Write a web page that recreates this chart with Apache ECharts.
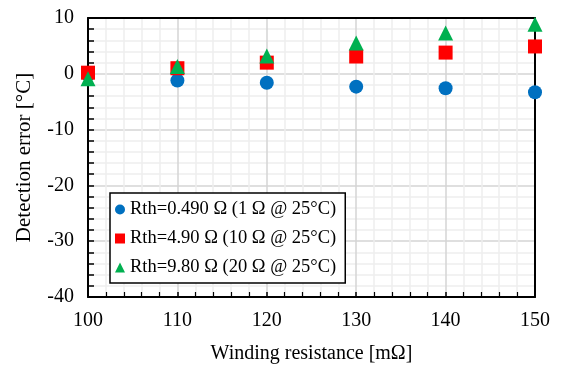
<!DOCTYPE html>
<html>
<head>
<meta charset="utf-8">
<script src="https://cdn.jsdelivr.net/npm/echarts@6/dist/echarts.min.js"></script>
<style>
  html, body { margin: 0; padding: 0; background: #fff; }
  #chart { width: 564px; height: 369px; }
</style>
</head>
<body>
<div id="chart"></div>
<script>
const resistance = [100, 110, 120, 130, 140, 150];
const err049 = [-0.2, -1.2, -1.6, -2.3, -2.6, -3.3];
const err490 = [0.2, 1.0, 2.0, 3.1, 3.8, 4.9];
const err980 = [-0.9, 1.3, 3.2, 5.5, 7.3, 8.9];
const seriesNames = [
  'Rth=0.490 Ω (1 Ω @ 25°C)',
  'Rth=4.90 Ω (10 Ω @ 25°C)',
  'Rth=9.80 Ω (20 Ω @ 25°C)'
];

const font = '"Liberation Serif", "Times New Roman", serif';
const chart = echarts.init(document.getElementById('chart'));

const pairs = vals => resistance.map((x, i) => [x, vals[i]]);

// plain black frame line for the top / right edges
const frame = { show: true, onZero: false, lineStyle: { color: '#000', width: 2 } };

chart.setOption({
  backgroundColor: '#fff',
  animation: false,
  grid: { left: 88, right: 29, top: 18, bottom: 72 },
  legend: {
    orient: 'vertical',
    left: 110, top: 193,
    padding: [7, 9, 6, 5],
    itemGap: 10,
    itemWidth: 10, itemHeight: 10,
    borderColor: '#000', borderWidth: 1.5,
    backgroundColor: '#fff',
    textStyle: { fontFamily: font, fontSize: 18.5, color: '#000' },
    data: seriesNames
  },
  xAxis: [
    {
      type: 'value', min: 100, max: 150, interval: 10,
      name: 'Winding resistance [mΩ]', nameLocation: 'middle', nameGap: 47,
      nameTextStyle: { fontFamily: font, fontSize: 20, color: '#000' },
      axisLine: { onZero: false, lineStyle: { color: '#000', width: 2 } },
      axisTick: { inside: true, length: 5, lineStyle: { color: '#000', width: 1.5 } },
      minorTick: { show: true, splitNumber: 5, length: 5, lineStyle: { color: '#000', width: 1.2 } },
      axisLabel: { fontFamily: font, fontSize: 20, color: '#000', margin: 14 },
      splitLine: { show: true, lineStyle: { color: '#d4d4d4', width: 1.5 } },
      minorSplitLine: { show: true, lineStyle: { color: '#eeeeee', width: 1.5 } }
    },
    {
      type: 'value', position: 'top', min: 100, max: 150,
      axisLine: frame, axisTick: { show: false }, axisLabel: { show: false },
      splitLine: { show: false }
    }
  ],
  yAxis: [
    {
      type: 'value', min: -40, max: 10, interval: 10,
      name: 'Detection error [°C]', nameLocation: 'middle', nameGap: 53,
      nameTextStyle: { fontFamily: font, fontSize: 21, color: '#000' },
      axisLine: { show: true, onZero: false, lineStyle: { color: '#000', width: 2 } },
      axisTick: { show: true, inside: true, length: 6, lineStyle: { color: '#000', width: 1.5 } },
      minorTick: { show: true, splitNumber: 5, length: 6, lineStyle: { color: '#000', width: 1.5 } },
      axisLabel: { fontFamily: font, fontSize: 20, color: '#000', margin: 14 },
      splitLine: { show: true, lineStyle: { color: '#d4d4d4', width: 1.5 } },
      minorSplitLine: { show: true, lineStyle: { color: '#eeeeee', width: 1.5 } }
    },
    {
      type: 'value', position: 'right', min: -40, max: 10,
      axisLine: frame, axisTick: { show: false }, axisLabel: { show: false },
      splitLine: { show: false }
    }
  ],
  series: [
    {
      name: seriesNames[0], type: 'scatter', data: pairs(err049),
      symbol: 'circle', symbolSize: 14, itemStyle: { color: '#0070c0', opacity: 1 }
    },
    {
      name: seriesNames[1], type: 'scatter', data: pairs(err490),
      symbol: 'rect', symbolSize: 14, itemStyle: { color: '#ff0000', opacity: 1 }
    },
    {
      name: seriesNames[2], type: 'scatter', data: pairs(err980),
      symbol: 'triangle', symbolSize: 15, itemStyle: { color: '#00b050', opacity: 1 }
    }
  ]
});
</script>
</body>
</html>
